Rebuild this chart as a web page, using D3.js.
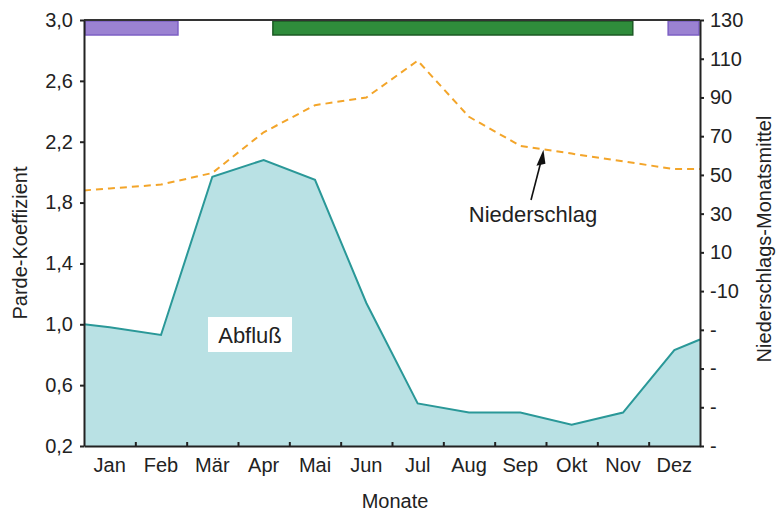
<!DOCTYPE html>
<html>
<head>
<meta charset="utf-8">
<script src="https://cdn.jsdelivr.net/npm/d3@7"></script>
<style>
  body { margin: 0; background: #fff; }
  text { font-family: "Liberation Sans", Arial, sans-serif; fill: #222; }
</style>
</head>
<body>
<div id="chart"></div>
<script>
const months = ["Jan", "Feb", "Mär", "Apr", "Mai", "Jun", "Jul", "Aug", "Sep", "Okt", "Nov", "Dez"];

// Parde-Koeffizient (Abfluß) at month centres, plus values at start of Jan / end of Dez
const abfluss = [0.98, 0.93, 1.97, 2.08, 1.95, 1.14, 0.48, 0.42, 0.42, 0.34, 0.42, 0.83];
const abflussEdges = [1.0, 0.9];

// Niederschlags-Monatsmittel (mm)
const niederschlag = [43, 45, 51, 72, 86, 90, 109, 80, 65, 61, 57, 53];
const niederschlagEdges = [42, 53];

// periods shown as bars at the top (in months from 1 Jan)
const periodStart = [0, 3.66, 11.36];
const periodEnd = [1.85, 10.71, 12];
const periodType = ["winter", "veg", "winter"];

const leftTicks = [0.2, 0.6, 1.0, 1.4, 1.8, 2.2, 2.6, 3.0];
const rightTicks = [-90, -70, -50, -30, -10, 10, 30, 50, 70, 90, 110, 130];
const rightTickLabels = ["-", "-", "-", "-", "-10", "10", "30", "50", "70", "90", "110", "130"];

const width = 777, height = 512;
const plotLeft = 84, plotRight = 700, plotTop = 20, plotBottom = 446;

const svg = d3.select("#chart").append("svg")
  .attr("width", width)
  .attr("height", height);

const x = d3.scaleLinear().domain([0, 12]).range([plotLeft, plotRight]);
const yL = d3.scaleLinear().domain([0.2, 3.0]).range([plotBottom, plotTop]);
const yR = d3.scaleLinear().domain([-90, 130]).range([plotBottom, plotTop]);

// build point lists: edge, month centres, edge
const abflussPts = [[0, abflussEdges[0]]]
  .concat(abfluss.map((v, i) => [i + 0.5, v]))
  .concat([[12, abflussEdges[1]]]);
const nsPts = [[0, niederschlagEdges[0]]]
  .concat(niederschlag.map((v, i) => [i + 0.5, v]))
  .concat([[12, niederschlagEdges[1]]]);

// Abfluß area
const area = d3.area()
  .x(d => x(d[0]))
  .y0(yL(0.2))
  .y1(d => yL(d[1]));
svg.append("path")
  .datum(abflussPts)
  .attr("d", area)
  .attr("fill", "#b9e1e4");
svg.append("path")
  .datum(abflussPts)
  .attr("d", d3.line().x(d => x(d[0])).y(d => yL(d[1])))
  .attr("fill", "none")
  .attr("stroke", "#2a9898")
  .attr("stroke-width", 2);

// Niederschlag dashed line
svg.append("path")
  .datum(nsPts)
  .attr("d", d3.line().x(d => x(d[0])).y(d => yR(d[1])))
  .attr("fill", "none")
  .attr("stroke", "#f3a52a")
  .attr("stroke-width", 2)
  .attr("stroke-dasharray", "7,5");

// top period bars
const periodColors = { winter: ["#9b82d2", "#7c5fc4"], veg: ["#2f8c3b", "#1c5a24"] };
svg.selectAll("rect.period")
  .data(periodStart.map((s, i) => ({ s: s, e: periodEnd[i], t: periodType[i] })))
  .enter()
  .append("rect")
  .attr("class", "period")
  .attr("x", d => x(d.s) + 1)
  .attr("y", plotTop + 1)
  .attr("width", d => x(d.e) - x(d.s) - 2)
  .attr("height", 14)
  .attr("fill", d => periodColors[d.t][0])
  .attr("stroke", d => periodColors[d.t][1])
  .attr("stroke-width", 1.5);

// frame top
svg.append("line")
  .attr("x1", plotLeft).attr("x2", plotRight)
  .attr("y1", plotTop).attr("y2", plotTop)
  .attr("stroke", "#333").attr("stroke-width", 2);

// left axis
const gl = svg.append("g")
  .attr("transform", `translate(${plotLeft},0)`)
  .call(d3.axisLeft(yL).tickValues(leftTicks).tickSize(4).tickSizeOuter(0)
    .tickFormat(d => d3.format(".1f")(d).replace(".", ",")));

// right axis
const gr = svg.append("g")
  .attr("transform", `translate(${plotRight},0)`)
  .call(d3.axisRight(yR).tickValues(rightTicks).tickSize(4).tickSizeOuter(0)
    .tickFormat((d, i) => rightTickLabels[i]));

// bottom axis: ticks inward at month boundaries, labels at centres
const gb = svg.append("g")
  .attr("transform", `translate(0,${plotBottom})`)
  .call(d3.axisBottom(x).tickValues(d3.range(1, 12)).tickSize(-4).tickSizeOuter(0).tickFormat(""));
svg.append("g")
  .selectAll("text")
  .data(months)
  .enter()
  .append("text")
  .attr("x", (d, i) => x(i + 0.5))
  .attr("y", 472)
  .attr("text-anchor", "middle")
  .attr("font-size", 20)
  .text(d => d);

[gl, gr, gb].forEach(g => {
  g.select(".domain").attr("stroke", "#222").attr("stroke-width", 2);
  g.selectAll(".tick line").attr("stroke", "#222").attr("stroke-width", 2);
  g.selectAll(".tick text").attr("font-size", 20).attr("fill", "#222")
    .attr("font-family", "Liberation Sans, Arial, sans-serif");
});
gl.selectAll(".tick text").attr("x", -11);
gr.selectAll(".tick text").attr("x", 10);

// axis titles
svg.append("text")
  .attr("transform", "translate(27,243) rotate(-90)")
  .attr("text-anchor", "middle")
  .attr("font-size", 20)
  .text("Parde-Koeffizient");
svg.append("text")
  .attr("transform", "translate(771,239) rotate(-90)")
  .attr("text-anchor", "middle")
  .attr("font-size", 20)
  .text("Niederschlags-Monatsmittel");
svg.append("text")
  .attr("x", 395)
  .attr("y", 508)
  .attr("text-anchor", "middle")
  .attr("font-size", 20)
  .text("Monate");

// Abfluß label
svg.append("rect")
  .attr("x", 208).attr("y", 317)
  .attr("width", 84).attr("height", 35)
  .attr("fill", "#fff");
svg.append("text")
  .attr("x", 250).attr("y", 343)
  .attr("text-anchor", "middle")
  .attr("font-size", 22)
  .text("Abfluß");

// Niederschlag label with arrow to Sep/Okt point
svg.append("text")
  .attr("x", 533).attr("y", 222)
  .attr("text-anchor", "middle")
  .attr("font-size", 22)
  .text("Niederschlag");
const tipX = x(8.95), tipY = yR(63);
svg.append("line")
  .attr("x1", 531).attr("y1", 200)
  .attr("x2", tipX - 2).attr("y2", tipY + 10)
  .attr("stroke", "#111").attr("stroke-width", 1.6);
svg.append("path")
  .attr("d", `M${tipX},${tipY} L${tipX - 7},${tipY + 16} L${tipX + 2},${tipY + 14} Z`)
  .attr("fill", "#111");
</script>
</body>
</html>
